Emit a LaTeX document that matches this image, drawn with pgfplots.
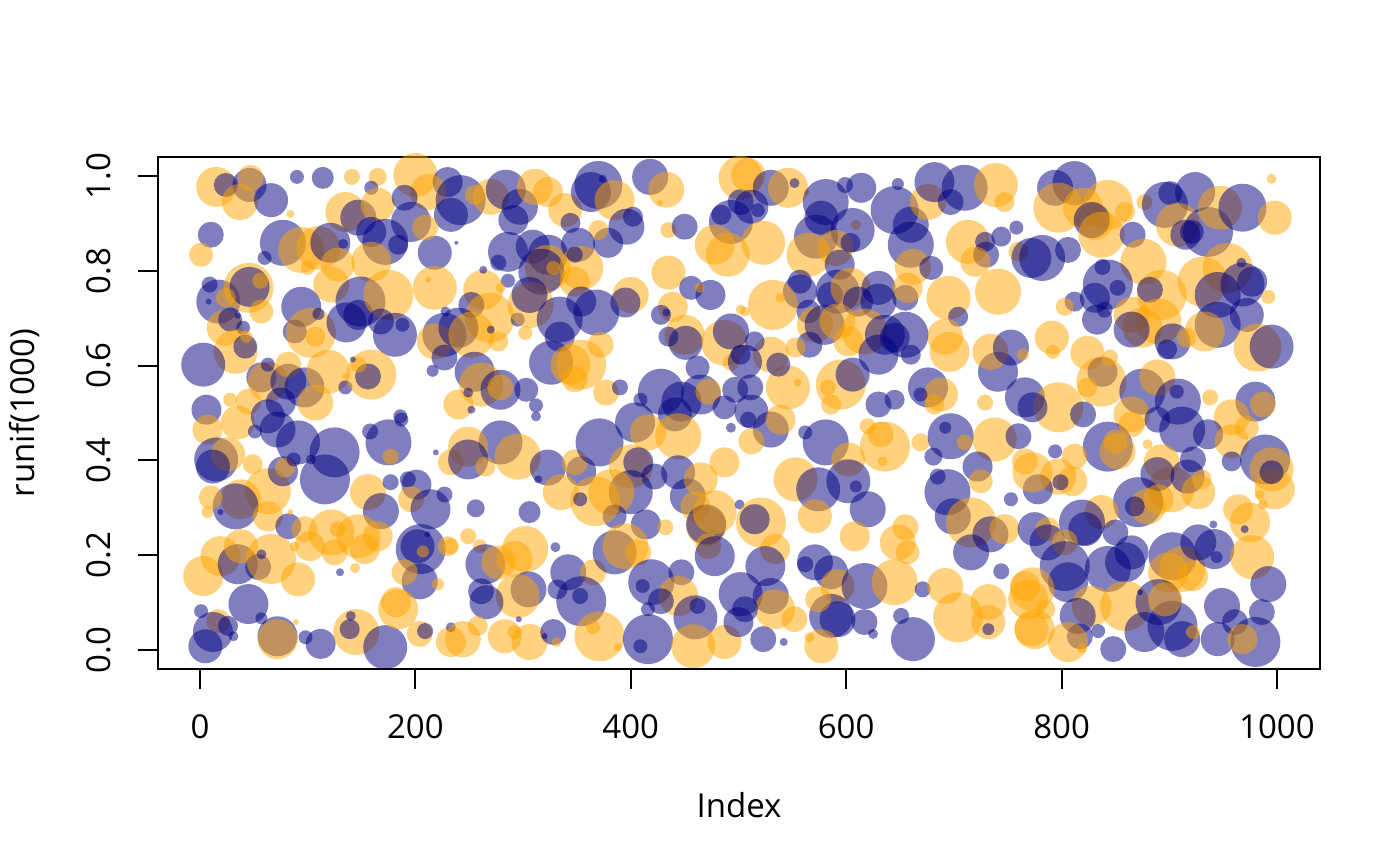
\documentclass[border=0pt]{standalone}
\usepackage{fontspec}
\setmainfont{Open Sans}
\usepackage{pgfplots}
\usepackage{pgfplotstable}
\pgfplotsset{compat=1.18}
% x y s(radius pt) c(0=navy,1=orange)
\pgfplotstableread{
x y s c
15 0.977 10 1
24 0.981 6 0
46 0.981 8.5 0
37 0.945 9 1
47 0.996 6.5 1
66 0.949 8.5 0
90 0.998 3.5 0
114 0.996 5.5 0
141 0.998 4 1
165 0.998 4.5 1
84 0.92 2 1
200 1.002 11 1
230 0.987 7.5 0
212 0.966 9 1
159 0.975 3.5 0
135 0.924 10 1
147 0.912 9 0
165 0.939 8.5 1
190 0.954 6.5 0
196 0.903 10 0
159 0.882 7.5 0
172 0.861 11.5 0
159 0.819 10 1
184 0.855 5 0
218 0.838 8.5 0
233 0.918 8.5 0
209 0.891 6.5 1
10 0.876 6.5 0
1 0.834 6 1
77 0.859 11.5 0
94 0.844 11.5 1
110 0.848 11 1
121 0.859 10 0
60 0.827 3.5 0
100 0.806 3.5 1
128 0.813 8.5 1
133 0.857 2.5 0
122 0.771 9 1
17 0.735 11 0
45 0.764 12.5 1
46 0.766 10 0
56 0.779 4 1
9 0.771 4 0
8 0.735 1.5 0
24 0.743 5 1
23 0.68 9 1
28 0.697 6 0
57 0.714 6 1
40 0.68 3.5 0
35 0.705 1.5 0
33 0.629 11 1
42 0.64 6 0
43 0.661 3 1
94 0.724 10 0
88 0.672 6 0
103 0.669 12.5 1
110 0.709 3 0
107 0.661 5 1
136 0.691 10 0
149 0.735 12.5 0
147 0.707 7.5 0
175 0.749 12.5 1
168 0.693 6.5 0
181 0.665 11 0
188 0.686 3.5 0
218 0.764 11 1
212 0.781 1.5 1
228 0.714 2.5 0
227 0.665 11 0
218 0.651 9 1
227 0.617 6.5 0
216 0.589 3 0
3 0.602 11 0
57 0.575 7.5 0
63 0.566 10 1
63 0.602 3.5 0
82 0.566 9 0
82 0.602 6.5 1
97 0.554 10 0
119 0.587 11 1
135 0.554 3.5 0
135 0.577 1.5 1
159 0.581 12.5 1
156 0.577 6.5 0
147 0.602 4 1
142 0.613 1.5 0
28 0.528 3.5 1
45 0.524 6.5 1
6 0.507 7.5 0
107 0.522 9 1
75 0.522 7.5 0
240 0.518 7.5 1
186 0.493 3.5 0
7 0.465 7.5 1
35 0.48 8.5 1
51 0.461 3.5 0
72 0.465 9 0
63 0.493 8.5 0
91 0.438 11 0
125 0.417 12.5 0
116 0.36 12.5 0
175 0.438 11.5 0
187 0.486 3.5 0
158 0.461 4 0
177 0.408 4 1
219 0.417 1.5 0
233 0.396 6.5 1
15 0.402 11 0
26 0.413 8.5 1
12 0.387 8.5 0
49 0.392 5 1
63 0.335 11.5 1
38 0.318 10 1
33 0.303 11.5 0
10 0.322 6 1
7 0.291 3 1
19 0.291 1.5 0
77 0.377 7.5 0
79 0.385 5 1
87 0.402 3.5 0
103 0.402 2.5 0
63 0.282 7.5 1
82 0.261 6.5 0
84 0.291 1.5 1
156 0.333 9 1
177 0.354 4 0
193 0.36 4 0
201 0.349 7.5 0
196 0.318 6.5 1
168 0.293 9 0
214 0.297 10 0
227 0.328 4 0
122 0.248 11.5 1
128 0.255 4 1
147 0.24 11 1
153 0.213 7.5 1
165 0.24 7.5 1
125 0.206 6.5 1
102 0.219 7.5 1
88 0.219 2.5 1
97 0.255 6.5 1
205 0.213 12.5 0
202 0.219 8.5 0
207 0.208 3 1
211 0.244 1.5 0
204 0.145 9 0
190 0.164 6.5 1
221 0.139 3 1
230 0.219 5 1
3 0.156 10 1
19 0.198 10 1
35 0.181 10 0
38 0.219 8.5 1
54 0.175 6.5 0
66 0.192 12.5 1
57 0.202 2.5 0
91 0.149 8.5 1
130 0.164 2 0
144 0.173 2.5 1
45 0.097 10 0
1 0.082 3.5 0
17 0.061 6 1
26 0.051 5 0
31 0.029 2.5 0
12 0.038 10 0
5 0.008 8.5 0
57 0.067 3 0
89 0.059 1.5 1
72 0.029 10 0
72 0.023 10 1
98 0.027 3.5 0
112 0.013 7.5 0
145 0.038 11.5 1
139 0.044 5 0
140 0.072 2.5 0
172 0.006 11 0
184 0.086 10 1
182 0.101 7.5 1
204 0.034 6.5 1
209 0.04 4 0
233 0.017 7.5 1
233 0.048 2.5 0
242 0.949 12.5 0
255 0.96 5 1
270 0.956 9 1
284 0.971 10 0
297 0.935 9 0
291 0.907 7.5 0
311 0.977 9 1
323 0.966 7.5 1
339 0.928 8.5 1
344 0.901 5 0
370 0.981 12 0
363 0.966 10 0
374 0.994 2 0
385 0.949 10 1
418 0.998 9 0
433 0.971 9 1
427 0.943 1.5 1
502 0.996 11 1
396 0.893 9 0
402 0.914 5 0
379 0.859 7.5 0
370 0.886 5 1
435 0.886 4 1
450 0.893 6.5 0
493 0.903 11 0
478 0.855 10 1
490 0.834 11 1
484 0.918 5 0
502 0.945 6.5 0
286 0.84 10 0
277 0.817 4 0
309 0.851 8.5 0
323 0.834 10 0
323 0.806 11.5 1
317 0.798 11.5 0
328 0.806 3.5 1
351 0.855 8.5 0
354 0.806 11 1
348 0.834 4 0
348 0.777 7.5 1
238 0.859 1 0
263 0.76 10 1
263 0.802 2 0
286 0.779 3.5 0
279 0.764 2.5 1
252 0.728 6.5 0
269 0.701 12.5 1
240 0.68 10 0
252 0.665 11.5 1
277 0.651 5 1
270 0.676 2 0
295 0.697 3.5 0
307 0.728 11.5 1
306 0.749 9 0
302 0.669 3.5 1
334 0.697 11.5 0
368 0.712 11.5 0
354 0.735 7.5 0
400 0.749 9 1
395 0.733 7.5 0
435 0.796 8.5 1
456 0.764 6 0
474 0.749 7.5 0
464 0.764 2.5 1
439 0.724 7.5 1
433 0.712 2 0
428 0.707 5 0
450 0.665 10 1
451 0.648 8.5 0
435 0.661 5 0
487 0.648 11.5 1
493 0.672 9 0
502 0.718 2.5 1
493 0.606 4 1
502 0.623 5 0
334 0.661 7.5 0
326 0.606 11 0
344 0.602 10 1
354 0.602 12.5 1
372 0.644 6.5 1
348 0.571 6.5 1
255 0.587 10 0
261 0.56 11 1
279 0.549 10 0
279 0.554 6.5 1
303 0.549 6 0
312 0.516 3.5 0
249 0.543 2.5 0
252 0.507 2 0
377 0.543 6.5 1
390 0.554 4 0
428 0.545 11.5 0
447 0.524 10 0
462 0.596 6 0
465 0.539 10 0
472 0.545 6.5 1
497 0.549 6.5 0
487 0.512 6 0
409 0.528 3.5 0
279 0.438 11 0
295 0.408 11.5 1
249 0.429 10 1
249 0.402 10 0
265 0.387 5 1
323 0.385 9 0
354 0.377 7.5 0
348 0.396 6.5 1
314 0.36 2 0
312 0.493 2.5 0
371 0.438 12 0
404 0.48 10 0
441 0.497 8.5 0
416 0.459 9 1
444 0.451 11.5 1
400 0.387 11 1
407 0.396 7.5 0
422 0.366 6.5 0
400 0.333 11 0
382 0.333 11.5 1
385 0.282 6 0
414 0.265 7.5 0
432 0.259 4 1
444 0.375 8.5 0
453 0.324 9 0
465 0.36 8.5 1
460 0.303 7.5 1
487 0.396 7.5 1
470 0.261 10 1
470 0.265 10 0
478 0.291 11 1
501 0.307 2.5 0
493 0.469 2.5 0
335 0.333 9 1
367 0.314 12.5 1
353 0.318 3.5 0
256 0.299 4.5 0
306 0.291 5.5 0
249 0.24 4 1
260 0.219 3.5 1
233 0.219 4 1
265 0.181 10 0
277 0.185 8.5 1
302 0.213 11.5 1
292 0.192 9 1
305 0.128 9 0
295 0.114 11 1
261 0.124 6.5 0
266 0.101 8.5 0
330 0.217 2.5 0
342 0.164 9 0
365 0.164 6.5 1
354 0.103 12.5 0
332 0.128 5 0
353 0.114 4 0
371 0.029 12.5 1
365 0.048 3.5 1
385 0.206 11 0
395 0.219 11.5 1
407 0.206 6.5 1
419 0.143 11.5 0
411 0.135 3.5 0
447 0.164 6.5 0
444 0.114 10 1
428 0.103 6.5 0
416 0.086 3.5 0
460 0.069 11 0
462 0.093 4 0
416 0.023 12.5 0
409 0.008 3.5 0
458 0.008 11 1
487 0.017 8.5 1
502 0.118 11 0
500 0.059 7.5 0
472 0.219 6.5 1
478 0.198 10 0
244 0.023 9 1
258 0.051 5 1
283 0.029 8.5 1
306 0.017 9 1
292 0.038 3.5 1
296 0.065 1.5 0
328 0.038 6.5 0
331 0.017 2.5 1
320 0.029 1.5 0
388 0.006 2 1
509 1.002 8.5 1
530 0.975 9 0
546 0.975 10 1
552 0.985 2.5 0
512 0.935 8.5 0
518 0.928 3.5 0
563 0.966 1.5 1
581 0.945 11.5 0
599 0.981 4 0
614 0.975 7.5 0
648 0.983 3 0
645 0.928 12 0
660 0.897 9 0
660 0.855 11.5 0
676 0.945 9 1
682 0.987 10 0
710 0.975 11.5 0
697 0.945 6.5 0
739 0.981 11 1
747 0.945 5 1
577 0.912 8.5 0
609 0.897 2.5 1
606 0.886 11 0
572 0.872 11 0
590 0.848 9 1
565 0.834 11 1
523 0.859 11 1
604 0.859 5 0
594 0.813 7.5 0
713 0.861 11 1
729 0.861 5 0
744 0.872 5 0
758 0.891 3.5 0
730 0.834 6.5 0
720 0.819 7.5 1
760 0.84 5 1
772 0.827 10 0
662 0.808 9 1
679 0.806 6 0
741 0.756 11.5 1
695 0.743 11 1
704 0.703 5 0
692 0.661 9 1
696 0.629 10 1
557 0.777 6 0
557 0.756 8.5 0
532 0.728 12.5 1
539 0.743 2.5 1
506 0.714 2.5 1
565 0.714 6 0
571 0.686 9 1
585 0.749 6.5 0
592 0.756 11 0
604 0.764 10 1
630 0.764 8.5 0
611 0.735 7.5 0
630 0.735 9 0
655 0.743 6.5 0
657 0.764 7.5 1
580 0.686 10 0
592 0.693 9 1
617 0.672 11.5 1
636 0.665 10 0
645 0.659 7.5 0
655 0.665 11.5 0
660 0.623 5 0
566 0.644 6.5 0
553 0.638 5 1
602 0.651 7.5 1
630 0.623 10 0
530 0.623 9 1
515 0.651 5 0
506 0.608 8.5 0
511 0.554 6.5 0
546 0.554 11 1
537 0.602 6 0
555 0.564 2 1
595 0.56 12.5 1
606 0.581 8.5 0
583 0.554 4 1
586 0.518 5 1
630 0.518 6.5 0
645 0.528 5 0
676 0.554 10 0
688 0.539 8.5 1
682 0.518 5 1
669 0.539 3.5 0
741 0.587 10 0
734 0.629 9 1
753 0.638 9 0
764 0.623 3 1
766 0.533 10 0
729 0.522 4 1
512 0.503 8.5 0
530 0.465 9 0
539 0.486 7.5 1
509 0.486 4 0
512 0.44 6.5 1
581 0.438 11.5 0
562 0.459 3.5 0
602 0.402 8.5 1
553 0.36 11 1
574 0.339 11 0
602 0.356 11 0
609 0.345 3 0
636 0.429 12.5 1
632 0.455 6.5 1
620 0.472 4 1
634 0.398 2.5 1
620 0.297 9 0
571 0.282 8.5 1
669 0.438 4.5 1
697 0.451 11.5 0
692 0.469 3 0
681 0.408 4.5 0
710 0.438 4 1
738 0.444 11 1
760 0.451 6.5 0
766 0.398 6.5 1
722 0.387 7.5 0
725 0.356 6 1
694 0.333 11.5 0
685 0.366 4 0
699 0.282 9 0
716 0.269 12.5 1
734 0.244 9 0
747 0.255 7.5 1
753 0.318 3.5 0
716 0.206 9 0
655 0.259 6.5 1
648 0.227 9 1
657 0.206 6 1
608 0.24 7.5 1
521 0.269 12.5 1
515 0.276 7.5 0
534 0.213 7.5 1
525 0.177 10 0
571 0.185 9 0
562 0.181 4 0
586 0.164 8.5 0
592 0.135 8.5 1
617 0.135 11.5 0
586 0.072 11 0
592 0.065 9 0
645 0.143 11.5 1
617 0.059 6.5 0
625 0.034 2.5 0
574 0.107 6.5 1
577 0.008 8.5 1
566 0.027 2.5 1
530 0.114 9 0
534 0.086 10 1
506 0.086 6.5 0
523 0.023 6.5 0
542 0.017 2 0
552 0.065 6.5 1
651 0.072 4 0
662 0.023 11 0
671 0.128 4 0
692 0.135 9 1
704 0.069 12.5 1
732 0.059 8.5 1
732 0.044 3 0
732 0.101 9 1
766 0.135 7.5 1
769 0.107 10 1
772 0.044 8.5 1
744 0.166 4 0
794 0.975 9 0
812 0.985 11 0
797 0.933 12.5 1
820 0.933 10 1
843 0.939 12.5 1
831 0.903 9 1
828 0.907 9 0
837 0.876 11.5 1
859 0.924 5 1
866 0.876 6.5 0
877 0.945 4 1
896 0.939 11.5 0
901 0.964 6 0
924 0.966 10 0
908 0.897 11 1
915 0.876 7.5 0
936 0.882 12.5 0
921 0.882 6 0
947 0.933 11 1
968 0.933 12 0
998 0.912 8.5 1
995 0.994 2.5 1
782 0.827 11.5 0
806 0.844 6.5 0
876 0.819 11.5 1
843 0.771 12.5 0
838 0.808 4 0
852 0.764 4 0
831 0.743 7.5 0
840 0.718 4 0
833 0.697 7.5 0
812 0.735 5 0
803 0.724 4.5 1
893 0.749 12.5 1
882 0.76 6.5 0
865 0.707 9 1
890 0.693 11.5 1
875 0.68 10 1
865 0.676 9 0
903 0.651 9 0
898 0.634 5 0
916 0.659 5 1
931 0.777 12.5 1
954 0.806 12.5 1
945 0.749 11.5 0
968 0.771 11 0
967 0.817 2.5 0
977 0.777 7.5 0
992 0.745 3.5 1
972 0.707 8.5 0
945 0.686 11.5 0
933 0.672 10 1
982 0.638 12 1
995 0.64 11 0
791 0.659 8.5 1
792 0.629 3.5 1
824 0.627 8.5 1
838 0.587 7.5 0
837 0.566 12.5 1
845 0.617 4 1
824 0.554 5 1
875 0.545 11.5 0
889 0.575 9 1
908 0.524 11.5 0
907 0.545 3.5 0
938 0.533 4 1
980 0.524 10 0
987 0.518 6.5 1
797 0.512 12.5 1
773 0.512 7.5 0
820 0.497 6.5 0
865 0.497 9 1
958 0.491 9 1
843 0.429 12.5 0
852 0.419 9 1
850 0.44 6 1
865 0.476 6.5 1
889 0.486 6.5 0
912 0.465 11.5 0
936 0.455 7.5 0
958 0.44 8.5 1
972 0.469 6 1
880 0.434 2.5 1
922 0.402 6.5 0
958 0.398 5 0
989 0.402 12.5 0
995 0.381 11 1
998 0.339 10 1
995 0.375 6 0
984 0.328 2.5 1
987 0.307 2.5 1
893 0.396 9 1
902 0.339 11.5 1
889 0.371 8.5 0
917 0.366 8.5 0
927 0.333 8.5 1
930 0.36 5 1
794 0.419 3.5 0
812 0.408 6.5 1
797 0.366 9 1
810 0.356 7.5 1
799 0.354 4 0
778 0.339 7.5 0
773 0.375 10 1
871 0.312 12.5 0
880 0.303 9 1
868 0.303 5 0
890 0.318 7.5 1
837 0.291 8.5 1
819 0.269 11.5 0
822 0.255 8.5 0
964 0.297 7.5 1
975 0.269 10 1
970 0.255 2 0
941 0.265 2 0
775 0.255 8.5 0
787 0.255 6 1
787 0.227 9 0
803 0.227 6.5 1
803 0.177 12.5 0
806 0.143 10 0
859 0.185 10 0
865 0.206 8.5 0
850 0.248 6.5 0
843 0.171 11.5 0
903 0.198 12 0
912 0.171 11.5 1
899 0.164 10 1
922 0.156 7.5 1
927 0.227 9 0
942 0.213 10 0
944 0.196 3 0
977 0.196 11 1
992 0.139 9 0
773 0.128 11 1
785 0.086 5 1
775 0.044 10 1
828 0.093 10 1
815 0.072 9 0
817 0.029 6.5 0
834 0.04 3.5 0
806 0.017 10 1
819 0.004 2.5 1
859 0.093 12.5 1
848 0.002 6.5 0
877 0.038 10 0
890 0.101 11.5 0
903 0.051 12.5 0
912 0.023 9 0
896 0.107 8.5 1
873 0.122 1.5 0
922 0.038 3.5 1
945 0.023 8.5 0
949 0.093 9 0
961 0.059 6.5 0
986 0.08 6.5 0
980 0.017 12.5 0
968 0.023 7.5 1
}\pts
\begin{document}
\begin{tikzpicture}
\useasboundingbox (-79pt,-98.5pt) rectangle (621pt,334.5pt);
\begin{axis}[
  at={(0pt,0pt)}, anchor=south west,
  scale only axis, width=581pt, height=256pt,
  xmin=-39, xmax=1040, ymin=-0.04, ymax=1.04,
  axis line style={line width=1pt},
  every tick/.style={line width=1pt, black},
  tick align=outside, tick pos=left,
  major tick length=10pt,
  xtick={0,200,400,600,800,1000},
  ytick={0,0.2,0.4,0.6,0.8,1.0},
  /pgf/number format/assume math mode=true,
  tick label style={font=\fontsize{16.5}{19}\selectfont},
  xticklabel style={/pgf/number format/1000 sep={}, anchor=base, yshift=-24.5pt},
  yticklabel style={/pgf/number format/.cd, fixed, fixed zerofill, precision=1, /tikz/.cd, rotate=90, anchor=base, yshift=13.5pt},
  xlabel={Index}, ylabel={runif(1000)},
  label style={font=\fontsize{16.5}{19}\selectfont},
  xlabel style={at={(axis description cs:0.5,-0.291)}, anchor=base},
  ylabel style={at={(axis description cs:-0.1059,0.5)}, anchor=base, rotate=0},
  colormap={rnav}{rgb255=(0,0,128) rgb255=(255,165,0)},
  point meta min=0, point meta max=1,
]
\addplot[
  scatter, only marks, mark=*,
  point meta=\thisrow{c},
  scatter/use mapped color={draw=mapped color, fill=mapped color},
  mark options={fill opacity=0.5, draw opacity=0},
  visualization depends on={\thisrow{s} \as \msize},
  scatter/@pre marker code/.append style={/tikz/mark size=\msize},
] table[x=x, y=y] \pts;
\end{axis}
\end{tikzpicture}
\end{document}
